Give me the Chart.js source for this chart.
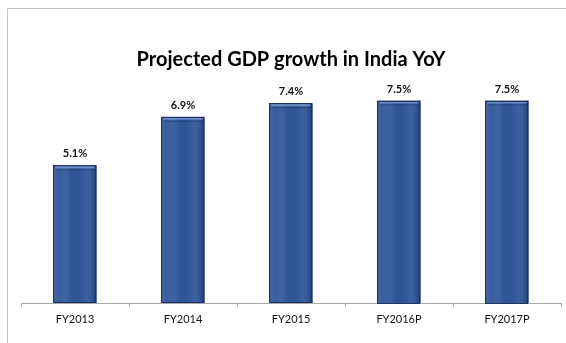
<!DOCTYPE html>
<html>
<head>
<meta charset="utf-8">
<script src="https://cdn.jsdelivr.net/npm/chart.js@4.4.1/dist/chart.umd.min.js"></script>
<style>
  html, body { margin: 0; padding: 0; background: #fff; }
  #wrap { width: 566px; height: 343px; }
</style>
</head>
<body>
<div id="wrap"><canvas id="gdpChart" width="566" height="343"></canvas></div>
<script>
// Projected GDP growth in India, year on year (%)
const years = ['FY2013', 'FY2014', 'FY2015', 'FY2016P', 'FY2017P'];
const growth = [5.1, 6.9, 7.4, 7.5, 7.5];
const chartTitle = 'Projected GDP growth in India YoY';

// frame around the chart + title
const framePlugin = {
    id: 'frame',
    beforeDraw(chart) {
        const ctx = chart.ctx;
        ctx.save();
        ctx.strokeStyle = '#c4c4c4';
        ctx.lineWidth = 1;
        ctx.beginPath();
        ctx.moveTo(7.5, chart.height);
        ctx.lineTo(7.5, 8.5);
        ctx.lineTo(chart.width, 8.5);
        ctx.stroke();

        const area = chart.chartArea;
        ctx.fillStyle = '#000';
        ctx.font = 'bold 20px Lato, "Open Sans", sans-serif';
        ctx.textAlign = 'center';
        ctx.textBaseline = 'middle';
        ctx.fillText(chartTitle, (area.left + area.right) / 2, 60);
        ctx.restore();
    }
};

// shading on the bars and value labels above them
const barLabelPlugin = {
    id: 'barLabels',
    afterDatasetsDraw(chart) {
        const ctx = chart.ctx;
        const meta = chart.getDatasetMeta(0);
        ctx.save();
        meta.data.forEach((bar, i) => {
            const left = bar.x - bar.width / 2;
            const right = bar.x + bar.width / 2;
            const top = bar.y;
            const bottom = bar.base;

            // horizontal shading
            const g = ctx.createLinearGradient(left, 0, right, 0);
            g.addColorStop(0, 'rgba(20,35,70,0.45)');
            g.addColorStop(0.08, 'rgba(255,255,255,0.04)');
            g.addColorStop(0.3, 'rgba(255,255,255,0.07)');
            g.addColorStop(0.5, 'rgba(0,0,0,0.02)');
            g.addColorStop(0.75, 'rgba(255,255,255,0.05)');
            g.addColorStop(0.92, 'rgba(20,35,70,0.15)');
            g.addColorStop(1, 'rgba(20,35,70,0.55)');
            ctx.fillStyle = g;
            ctx.fillRect(left, top, right - left, bottom - top);

            // top highlight
            ctx.fillStyle = 'rgba(150,180,225,0.55)';
            ctx.fillRect(left + 2, top + 1, right - left - 4, 2);
            ctx.fillStyle = 'rgba(20,35,70,0.35)';
            ctx.fillRect(left + 2, top + 4, right - left - 4, 1);

            ctx.strokeStyle = '#1c3461';
            ctx.lineWidth = 1;
            ctx.strokeRect(Math.round(left) + 0.5, Math.round(top) + 0.5,
                Math.round(right - left) - 1, Math.round(bottom - top) - 1);

            ctx.fillStyle = '#111';
            ctx.font = 'bold 11px Lato, "Open Sans", sans-serif';
            ctx.textAlign = 'center';
            ctx.textBaseline = 'alphabetic';
            ctx.fillText(growth[i].toFixed(1) + '%', bar.x, top - 8);
        });
        ctx.restore();
    }
};

const ctx = document.getElementById('gdpChart').getContext('2d');
new Chart(ctx, {
    type: 'bar',
    data: {
        labels: years,
        datasets: [{
            data: growth,
            backgroundColor: '#30569a',
            borderWidth: 0,
            barPercentage: 0.4,
            categoryPercentage: 1.0
        }]
    },
    options: {
        responsive: false,
        animation: false,
        layout: { padding: { left: 21, right: 5, top: 33, bottom: 0 } },
        plugins: {
            legend: { display: false },
            title: { display: false },
            tooltip: { enabled: false }
        },
        scales: {
            x: {
                grid: {
                    offset: true,
                    drawOnChartArea: false,
                    drawTicks: true,
                    tickLength: 4,
                    color: '#a6a6a6'
                },
                border: { display: true, color: '#a6a6a6' },
                ticks: {
                    color: '#111',
                    padding: 6,
                    font: { family: 'Lato, "Open Sans", sans-serif', size: 11 }
                },
                afterFit(scale) { scale.height = 40; }
            },
            y: {
                display: false,
                min: 0,
                max: 10
            }
        }
    },
    plugins: [framePlugin, barLabelPlugin]
});
</script>
</body>
</html>
